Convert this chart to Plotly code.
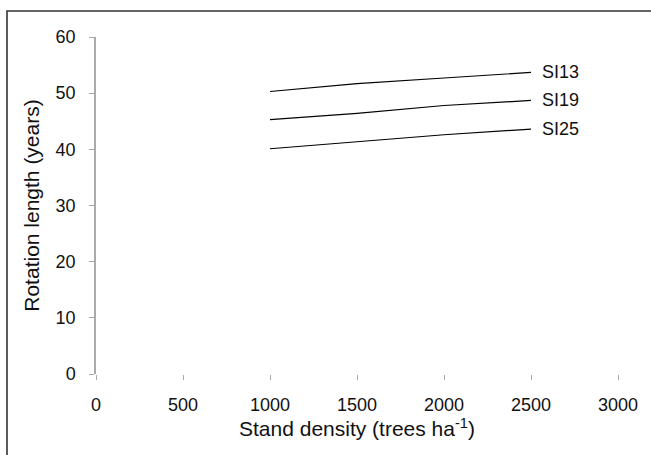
import plotly.graph_objects as go

density = [1000, 1500, 2000, 2500]
si13 = [50.3, 51.7, 52.7, 53.7]
si19 = [45.3, 46.4, 47.8, 48.7]
si25 = [40.1, 41.4, 42.6, 43.6]
series = [("SI13", si13), ("SI19", si19), ("SI25", si25)]

x_ticks = [0, 500, 1000, 1500, 2000, 2500, 3000]
y_ticks = [0, 10, 20, 30, 40, 50, 60]

fig = go.Figure()
for name, vals in series:
    fig.add_trace(go.Scatter(x=density, y=vals, mode="lines", name=name,
                             line=dict(color="black", width=1.2), showlegend=False))
    fig.add_annotation(x=density[-1], y=vals[-1], text=name, showarrow=False,
                       xanchor="left", yanchor="middle", xshift=9,
                       font=dict(size=18, color="#111"))

font = "Liberation Sans, Arial, sans-serif"
fig.update_layout(
    width=651, height=455,
    margin=dict(l=96, r=33, t=37, b=81),
    paper_bgcolor="white", plot_bgcolor="white",
    font=dict(family=font, color="#111"),
    xaxis=dict(range=[0, 3000], tickvals=x_ticks, showgrid=False, zeroline=False,
               showline=False, ticks="outside", ticklen=5, tickcolor="#aaa",
               tickfont=dict(size=18), ticklabelstandoff=9,
               title=dict(text="Stand density (trees ha<sup>-1</sup>)", font=dict(size=21), standoff=4)),
    yaxis=dict(range=[0, 60], tickvals=y_ticks, showgrid=False, zeroline=False,
               showline=True, linecolor="#aaa", linewidth=1.5,
               ticks="outside", ticklen=5, tickcolor="#aaa",
               tickfont=dict(size=18), ticklabelstandoff=10,
               title=dict(text="Rotation length (years)", font=dict(size=21), standoff=10)),
)
fig.add_shape(type="rect", xref="paper", yref="paper",
              x0=-0.1705, x1=1.09, y0=-0.3, y1=1.077,
              line=dict(color="#333", width=1.6), layer="below")
fig.write_html("out.html", config={"displayModeBar": False},
               post_script="document.body.style.margin='0';")
